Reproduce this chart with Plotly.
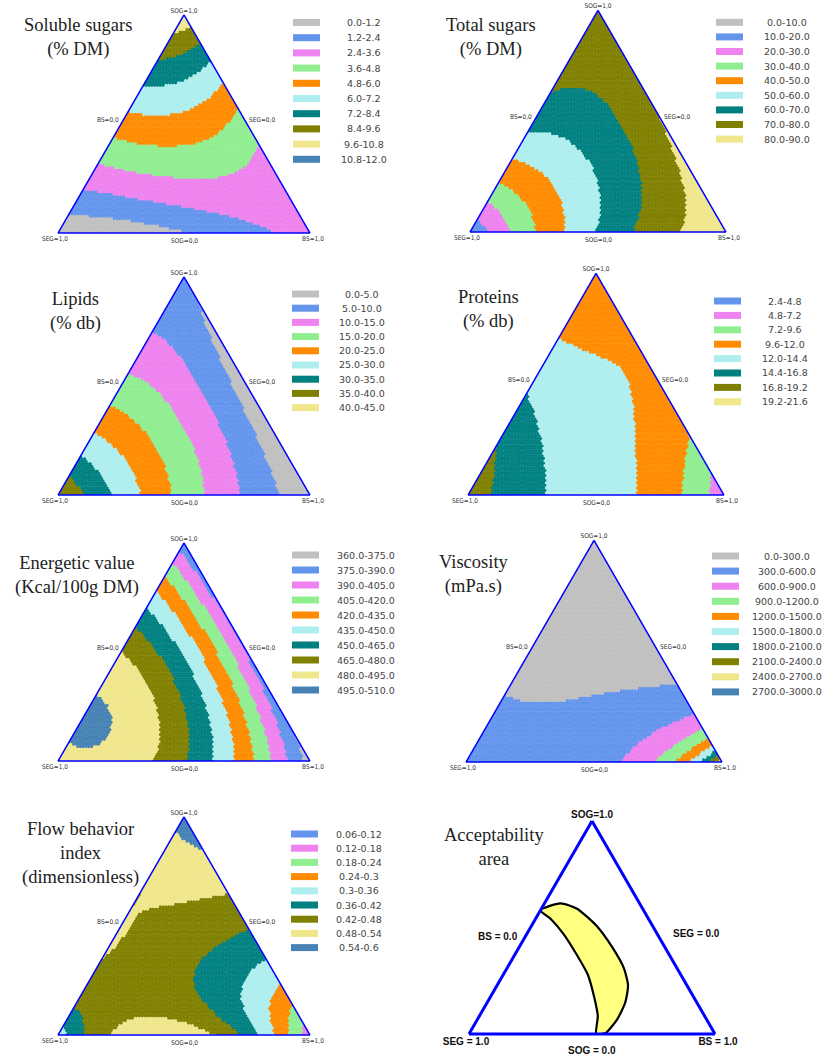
import numpy as np
import plotly.graph_objects as go

W, H = 828, 1057

palette = ["#C0C0C0", "#6495ED", "#EE82EE", "#90EE90", "#FF8C00",
           "#AFEEEE", "#008080", "#808000", "#F0E68C", "#4682B4"]

# ---------------- legend class labels ----------------
soluble_labels = ["0.0-1.2", "1.2-2.4", "2.4-3.6", "3.6-4.8", "4.8-6.0",
                  "6.0-7.2", "7.2-8.4", "8.4-9.6", "9.6-10.8", "10.8-12.0"]
total_labels = ["0.0-10.0", "10.0-20.0", "20.0-30.0", "30.0-40.0", "40.0-50.0",
                "50.0-60.0", "60.0-70.0", "70.0-80.0", "80.0-90.0"]
lipids_labels = ["0.0-5.0", "5.0-10.0", "10.0-15.0", "15.0-20.0", "20.0-25.0",
                 "25.0-30.0", "30.0-35.0", "35.0-40.0", "40.0-45.0"]
proteins_labels = ["2.4-4.8", "4.8-7.2", "7.2-9.6", "9.6-12.0", "12.0-14.4",
                   "14.4-16.8", "16.8-19.2", "19.2-21.6"]
energy_labels = ["360.0-375.0", "375.0-390.0", "390.0-405.0", "405.0-420.0",
                 "420.0-435.0", "435.0-450.0", "450.0-465.0", "465.0-480.0",
                 "480.0-495.0", "495.0-510.0"]
visc_labels = ["0.0-300.0", "300.0-600.0", "600.0-900.0", "900.0-1200.0",
               "1200.0-1500.0", "1500.0-1800.0", "1800.0-2100.0", "2100.0-2400.0",
               "2400.0-2700.0", "2700.0-3000.0"]
flow_labels = ["0.06-0.12", "0.12-0.18", "0.18-0.24", "0.24-0.3", "0.3-0.36",
               "0.36-0.42", "0.42-0.48", "0.48-0.54", "0.54-0.6"]

# ---------------- mixture-model coefficients -----
# term order: SOG, SEG, BS, SOG*SEG, SOG*BS, SEG*BS,
#             SOG*SEG*(SOG-SEG), SOG*BS*(SOG-BS), SEG*BS*(SEG-BS), SOG*SEG*BS, SOG^2*SEG*BS
soluble_coef = [10.5, 0.35, 2.8, 0.0, -9.8, -1.8, 0.0, 0.0, -2.0, 27.0, 0.0]
total_coef = [75.0, 12.0, 87.0, 78.0, -3.0, 45.0, 0.0, 0.0, 0.0, -250.0, 0.0]
lipids_coef = [6.0, 40.0, 1.5, -24.8, -5.0, -10.9, 1.54, 0.0, 0.93, 90.0, 0.0]
proteins_coef = [10.0, 18.5, 5.5, -1.0, 14.6, 4.73, -3.0, 0.0, -14.2, -15.0, 0.0]
energy_coef = [380.0, 490.0, 368.0, 180.0, 53.0, 149.0, -4.5, 0.0, 13.6, 150.0, 0.0]
visc_ln_coef = [5.01, 6.11, 7.90, -0.36, -5.2, -3.34, 0.0, 0.0, -0.28, 8.0, 0.0]   # model of ln(viscosity)
flow_coef = [0.58, 0.33, 0.14, 0.109, 0.264, 1.152, -0.546, -0.088, 0.038, -4.0, 5.0]

# ---------------- acceptability area boundary (SOG, SEG, BS) ------------------
acc_sog = [0.581, 0.613, 0.589, 0.509, 0.405, 0.309, 0.229, 0.149, 0.069, 0.005, 0.0, 0.0,
           0.085, 0.165, 0.277, 0.373, 0.469, 0.541]
acc_seg = [0.419, 0.322, 0.268, 0.228, 0.214, 0.216, 0.239, 0.290, 0.363, 0.441, 0.464, 0.483,
           0.434, 0.407, 0.378, 0.376, 0.381, 0.398]
acc_bs = [0.0, 0.065, 0.143, 0.263, 0.381, 0.475, 0.532, 0.561, 0.568, 0.554, 0.536, 0.517,
          0.481, 0.428, 0.345, 0.251, 0.150, 0.061]

titles = ["Soluble sugars<br>(% DM)", "Total sugars<br>(% DM)", "Lipids<br>(% db)",
          "Proteins<br>(% db)", "Energetic value<br>(Kcal/100g DM)", "Viscosity<br>(mPa.s)",
          "Flow behavior<br>index<br>(dimensionless)", "Acceptability<br>area"]

vertex_labels = ["SOG=1,0", "SEG=1,0", "BS=1,0"]
edge_labels = ["BS=0,0", "SEG=0,0", "SOG=0,0"]
vertex_labels_acc = ["SOG=1.0", "SEG = 1.0", "BS = 1.0"]
edge_labels_acc = ["BS = 0.0", "SEG = 0.0", "SOG = 0.0"]


def scheffe(coef, a, b, c):
    terms = [a, b, c, a * b, a * c, b * c, a * b * (a - b), a * c * (a - c), b * c * (b - c),
             a * b * c, a * a * b * c]
    return sum(k * t for k, t in zip(coef, terms))


def lows_from_labels(labels):
    return np.array([float(s.split("-")[0]) for s in labels])


# panel layout (styles / positions in pixels)
panels = [
    dict(coef=soluble_coef, labels=soluble_labels, colors=palette[0:10], log=False,
         cx=184, base=233, w=252, tx=78, ty=38, lx=293, ly=22.5, ldy=15.2, ltx=364),
    dict(coef=total_coef, labels=total_labels, colors=palette[0:9], log=False,
         cx=598, base=232, w=256, tx=491, ty=38, lx=716, ly=22.3, ldy=14.6, ltx=787),
    dict(coef=lipids_coef, labels=lipids_labels, colors=palette[0:9], log=False,
         cx=184, base=495, w=252, tx=75, ty=311, lx=292, ly=294, ldy=14.2, ltx=362),
    dict(coef=proteins_coef, labels=proteins_labels, colors=palette[1:9], log=False,
         cx=596, base=495, w=256, tx=489, ty=309, lx=714, ly=301, ldy=14.4, ltx=785),
    dict(coef=energy_coef, labels=energy_labels, colors=palette[0:10], log=False,
         cx=184, base=761, w=252, tx=77, ty=575, lx=292, ly=555, ldy=15.0, ltx=366),
    dict(coef=visc_ln_coef, labels=visc_labels, colors=palette[0:10], log=True,
         cx=594, base=762, w=256, tx=474, ty=574, lx=712, ly=556, ldy=15.1, ltx=787),
    dict(coef=flow_coef, labels=flow_labels, colors=palette[1:10], log=False,
         cx=184, base=1035, w=252, tx=80, ty=853, lx=291, ly=834, ldy=14.2, ltx=359),
]
acc_panel = dict(cx=592, base=1034, w=246, tx=494, ty=847)

# triangular lattice of compositions
N = 90
ii, jj = np.meshgrid(np.arange(N + 1), np.arange(N + 1), indexing="ij")
m = (ii + jj) <= N
A = ii[m] / N
B = jj[m] / N
C = np.clip(1.0 - A - B, 0, 1)

fig = go.Figure()
shapes = []
annotations = []
layout_tern = {}

small_font = dict(family="DejaVu Sans Condensed, DejaVu Sans, sans-serif", size=6.5, color="#333333")
acc_font = dict(family="Liberation Sans, Arial, sans-serif", size=10, color="#111111")
title_font = dict(family="Liberation Serif, Times New Roman, serif", size=18.5, color="#222222")
SQ3 = np.sqrt(3) / 2


def domain(cx, base, w):
    h = w * SQ3
    return dict(x=[(cx - w / 2) / W, (cx + w / 2) / W], y=[1 - base / H, 1 - (base - h) / H])


def axis(title, font, lw):
    return dict(title=dict(text=title, font=font), showticklabels=False, ticks="",
                showgrid=False, showline=True, linecolor="#0000FF", linewidth=lw,
                layer="above traces")


def paper(x, y):
    return x / W, 1 - y / H


def edge_annotations(p, texts, font, s_left, s_right, dx_left, dx_right, dy_bottom):
    h = p["w"] * SQ3
    out = []
    xl, yl = paper(p["cx"] - p["w"] / 2 + s_left * p["w"] / 2 - dx_left, p["base"] - s_left * h)
    out.append(dict(x=xl, y=yl, text=texts[0], xanchor="right", yanchor="middle"))
    xr, yr = paper(p["cx"] + p["w"] / 2 - s_right * p["w"] / 2 + dx_right, p["base"] - s_right * h)
    out.append(dict(x=xr, y=yr, text=texts[1], xanchor="left", yanchor="middle"))
    xb, yb = paper(p["cx"], p["base"] + dy_bottom)
    out.append(dict(x=xb, y=yb, text=texts[2], xanchor="center", yanchor="top"))
    for o in out:
        o.update(xref="paper", yref="paper", showarrow=False, font=font)
    return out


for k, p in enumerate(panels):
    sub = "ternary" if k == 0 else f"ternary{k + 1}"
    f = scheffe(p["coef"], A, B, C)
    if p["log"]:
        f = np.exp(f)
    lows = lows_from_labels(p["labels"])
    idx = np.clip(np.searchsorted(lows[1:], f, side="right"), 0, len(lows) - 1)
    cols = [p["colors"][i] for i in idx]
    msize = 1.3 * p["w"] / N
    fig.add_trace(go.Scatterternary(
        a=A, b=B, c=C, mode="markers", subplot=sub, hoverinfo="skip", showlegend=False,
        cliponaxis=True,
        marker=dict(symbol="hexagon", size=msize, color=cols, line=dict(width=0))))
    layout_tern[sub] = dict(domain=domain(p["cx"], p["base"], p["w"]), sum=1, bgcolor="white",
                            aaxis=axis(vertex_labels[0], small_font, 1.5),
                            baxis=axis(vertex_labels[1], small_font, 1.5),
                            caxis=axis(vertex_labels[2], small_font, 1.5))
    annotations += edge_annotations(p, edge_labels, small_font, 0.52, 0.52, 3, 3, 2)
    tx, ty = paper(p["tx"], p["ty"])
    annotations.append(dict(x=tx, y=ty, xref="paper", yref="paper", text=titles[k],
                            showarrow=False, xanchor="center", yanchor="middle", font=title_font))
    for r, (lab, col) in enumerate(zip(p["labels"], p["colors"])):
        yc = p["ly"] + r * p["ldy"]
        x0, y0 = paper(p["lx"], yc + 3.5)
        x1, y1 = paper(p["lx"] + 27, yc - 3.5)
        shapes.append(dict(type="rect", xref="paper", yref="paper", x0=x0, x1=x1, y0=y0, y1=y1,
                           fillcolor=col, line=dict(width=0)))
        lx_, ly_ = paper(p["ltx"], yc)
        annotations.append(dict(x=lx_, y=ly_, xref="paper", yref="paper", text=lab,
                                showarrow=False, xanchor="center", yanchor="middle",
                                font=dict(family="DejaVu Sans, Verdana, sans-serif", size=9.5,
                                          color="#444444")))

# acceptability panel
sub = "ternary8"
fig.add_trace(go.Scatterternary(
    a=acc_sog + acc_sog[:1], b=acc_seg + acc_seg[:1], c=acc_bs + acc_bs[:1],
    mode="lines", fill="toself", fillcolor="#FFFF80",
    line=dict(color="black", width=2.2, shape="spline", smoothing=0.6),
    subplot=sub, hoverinfo="skip", showlegend=False))
bold_acc = ["<b>" + t + "</b>" for t in vertex_labels_acc]
layout_tern[sub] = dict(domain=domain(acc_panel["cx"], acc_panel["base"], acc_panel["w"]), sum=1,
                        bgcolor="white",
                        aaxis=axis(bold_acc[0], acc_font, 3),
                        baxis=axis(bold_acc[1], acc_font, 3),
                        caxis=axis(bold_acc[2], acc_font, 3))
annotations += edge_annotations(acc_panel, ["<b>" + t + "</b>" for t in edge_labels_acc],
                                acc_font, 0.46, 0.47, 6, 14, 9)
tx, ty = paper(acc_panel["tx"], acc_panel["ty"])
annotations.append(dict(x=tx, y=ty, xref="paper", yref="paper", text=titles[7],
                        showarrow=False, xanchor="center", yanchor="middle", font=title_font))

fig.update_layout(width=W, height=H, margin=dict(l=0, r=0, t=0, b=0),
                  paper_bgcolor="white", plot_bgcolor="white", showlegend=False,
                  shapes=shapes, annotations=annotations, **layout_tern)

fig.write_html("out.html", config={"displayModeBar": False, "staticPlot": True},
               post_script="document.body.style.margin='0px';")
